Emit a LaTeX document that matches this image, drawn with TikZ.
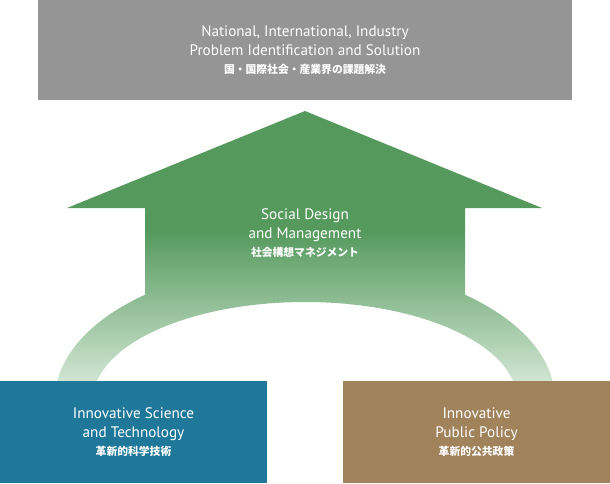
\documentclass[tikz,border=0pt]{standalone}
\usepackage{fontspec}
\setmainfont{PT Sans}
\newfontfamily\jpfont{Noto Sans CJK JP}
\definecolor{topgray}{HTML}{959595}
\definecolor{techblue}{HTML}{1F7899}
\definecolor{polbrown}{HTML}{A0825B}
\definecolor{darkgreen}{HTML}{55995D}
\definecolor{lightgreen}{HTML}{D0E5D2}
\newcommand{\jp}[1]{{\jpfont\bfseries\fontsize{10.8}{12}\selectfont #1}}
\tikzset{
  box/.style={draw=none, inner sep=0pt, align=center, text=white,
    font=\fontsize{15.2}{19.5}\selectfont},
  midtext/.style={inner sep=0pt, align=center, text=white,
    font=\fontsize{15.2}{19.5}\selectfont},
  greenfill/.style={fill=darkgreen},
  greenfade/.style={top color=darkgreen, bottom color=lightgreen}
}
\begin{document}
\begin{tikzpicture}[x=1pt,y=-1pt]
\useasboundingbox (0,0) rectangle (610,483);
% arrow
\begin{scope}
  \clip (305,111) -- (542,208) -- (465,208) -- (465,295) -- (145,295) -- (145,208) -- (67,208) -- cycle;
  \fill[greenfill] (0,100) rectangle (610,231);
  \shade[greenfade] (0,230) rectangle (610,381);
\end{scope}
% arch
\begin{scope}[even odd rule]
  \clip (0,0) rectangle (610,381);
  \clip (305,400) ellipse [x radius=250, y radius=137]
        (305,400) ellipse [x radius=212, y radius=98];
  \fill[greenfill] (0,100) rectangle (610,231);
  \shade[greenfade] (0,230) rectangle (610,381);
\end{scope}
% boxes
\node[box, fill=topgray, minimum width=534pt, minimum height=100pt] (top) at (305,50)
  {National, International, Industry\\Problem Identification and Solution\\[-2pt]\jp{国・国際社会・産業界の課題解決}};
\node[midtext] (sdm) at (305,233)
  {Social Design\\and Management\\[-2pt]\jp{社会構想マネジメント}};
\node[box, fill=techblue, minimum width=267pt, minimum height=102pt] (ist) at (133.5,432)
  {Innovative Science\\and Technology\\[-2pt]\jp{革新的科学技術}};
\node[box, fill=polbrown, minimum width=267pt, minimum height=102pt] (ipp) at (476.5,432)
  {Innovative\\Public Policy\\[-2pt]\jp{革新的公共政策}};
\end{tikzpicture}
\end{document}
